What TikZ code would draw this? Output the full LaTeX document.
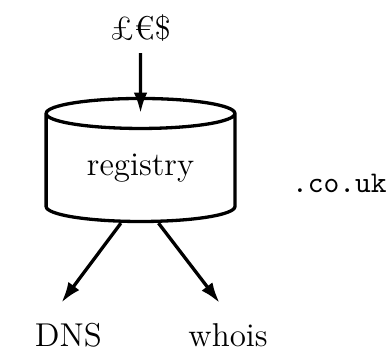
\documentclass[tikz,border=0pt]{standalone}
\usepackage{fontspec}
\usetikzlibrary{shapes.geometric,arrows.meta}
\begin{document}
\begin{tikzpicture}[line width=1.1pt,>={Latex[length=2.4mm,width=1.6mm]},
  every node/.style={font=\fontsize{11}{13}\selectfont}]
\useasboundingbox (0,0) rectangle (4.53,-4.12);
\node(registry) at (1.645,-1.97)[shape=cylinder,shape border rotate=90,draw,aspect=0.28,
  minimum width=2.21cm,minimum height=1.44cm,inner sep=0pt] {registry};
\node(money) at (1.645,-0.33) {£€\$};
\node(tld) at (3.4,-2.25)[anchor=base west,inner sep=0pt,font=\fontsize{10}{12}\ttfamily] {.co.uk};
\node(dns) at (0.8,-4.05)[anchor=base] {DNS};
\node(whois) at (2.67,-4.05)[anchor=base] {whois};
\draw[->] (money) -- ([yshift=-0.19cm]registry.north);
\draw[->] ([xshift=-0.23cm]registry.south) -- ([xshift=-0.08cm,yshift=0.1cm]dns.north);
\draw[->] ([xshift=0.21cm]registry.south) -- ([xshift=-0.1cm,yshift=0.1cm]whois.north);
\end{tikzpicture}
\end{document}
